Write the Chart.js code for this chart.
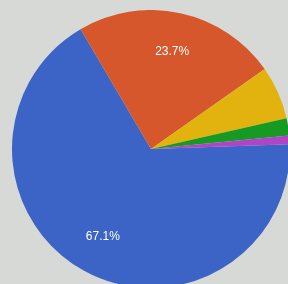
<!DOCTYPE html>
<html>
<head>
<meta charset="utf-8">
<script src="https://cdn.jsdelivr.net/npm/chart.js@4"></script>
<style>
  html, body { margin: 0; padding: 0; width: 288px; height: 284px; overflow: hidden; background: #d6d9d5; }
  #wrap { position: absolute; left: 12px; top: 10px; width: 278px; height: 278px; }
</style>
</head>
<body>
<div id="wrap"><canvas id="pie"></canvas></div>
<script>
// datos del gráfico
const categories = ['A', 'B', 'C', 'D', 'E'];
const shares = [67.1, 23.7, 6.2, 2.0, 1.0];
const shownLabels = ['67.1%', '23.7%', '', '', ''];
const sliceColors = ['#3b64c6', '#d6572b', '#e2b20f', '#169a24', '#ad45c6'];

// escribe el porcentaje dentro de cada sector
const sliceText = {
  id: 'sliceText',
  afterDatasetsDraw(chart) {
    const ctx = chart.ctx;
    const meta = chart.getDatasetMeta(0);
    ctx.save();
    ctx.fillStyle = '#ffffff';
    ctx.font = '12px "Liberation Sans", Arial, sans-serif';
    ctx.textAlign = 'center';
    ctx.textBaseline = 'middle';
    meta.data.forEach((arc, i) => {
      if (!shownLabels[i]) return;
      const p = arc.getProps(['x', 'y', 'startAngle', 'endAngle', 'outerRadius']);
      const mid = (p.startAngle + p.endAngle) / 2;
      const r = p.outerRadius * 0.72;
      ctx.fillText(shownLabels[i], p.x + Math.cos(mid) * r, p.y + Math.sin(mid) * r);
    });
    ctx.restore();
  }
};

new Chart(document.getElementById('pie'), {
  type: 'pie',
  data: {
    labels: categories,
    datasets: [{
      data: shares,
      backgroundColor: sliceColors,
      borderWidth: 0
    }]
  },
  options: {
    responsive: true,
    maintainAspectRatio: false,
    animation: false,
    rotation: 88,
    layout: { padding: 0 },
    plugins: {
      legend: { display: false },
      tooltip: { enabled: false }
    }
  },
  plugins: [sliceText]
});
</script>
</body>
</html>
